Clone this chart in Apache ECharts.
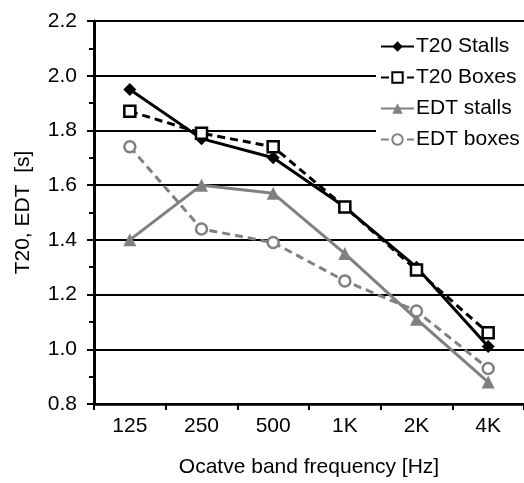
<!DOCTYPE html>
<html>
<head>
<meta charset="utf-8">
<script src="https://cdn.jsdelivr.net/npm/echarts@6/dist/echarts.min.js"></script>
<style>html,body{margin:0;padding:0;background:#fff}#c{width:524px;height:483px}</style>
</head>
<body>
<div id="c"></div>
<script>
var categories = ['125', '250', '500', '1K', '2K', '4K'];
var t20Stalls = [1.95, 1.77, 1.70, 1.52, 1.30, 1.01];
var t20Boxes = [1.87, 1.79, 1.74, 1.52, 1.29, 1.06];
var edtStalls = [1.40, 1.60, 1.57, 1.35, 1.11, 0.88];
var edtBoxes = [1.74, 1.44, 1.39, 1.25, 1.14, 0.93];
var seriesNames = ['T20 Stalls', 'T20 Boxes', 'EDT stalls', 'EDT boxes'];
var yTicks = { min: 0.8, max: 2.2, interval: 0.2 };

var FONT = 'Liberation Sans, Arial, sans-serif';
var BLACK = '#000000', GRAY = '#808080';

var chart = echarts.init(document.getElementById('c'), null, { renderer: 'canvas' });
function mk(name, data, color, dashed, symbol, hollow) {
  return {
    name: name, type: 'line', data: data,
    symbol: symbol, symbolSize: symbol === 'triangle' ? 13 : (symbol === 'diamond' ? 13 : 11),
    showSymbol: true,
    lineStyle: { color: color, width: 3, type: dashed ? [8, 5] : 'solid' },
    itemStyle: { color: hollow ? '#ffffff' : color, borderColor: color, borderWidth: hollow ? 2.5 : 0 },
    emphasis: { disabled: true },
    animation: false, z: 3
  };
}
chart.setOption({
  animation: false,
  backgroundColor: '#ffffff',
  grid: { left: 94, right: -6, top: 21, bottom: 75 },
  legend: {
    orient: 'vertical', left: 376, top: 32,
    backgroundColor: '#ffffff', padding: [4, 6, 4, 4],
    itemWidth: 33, itemHeight: 13, itemGap: 10,
    textStyle: { fontFamily: FONT, fontSize: 21, color: '#000', padding: [0, 0, 0, -3] },
    data: seriesNames
  },
  xAxis: {
    type: 'category', data: categories, boundaryGap: true,
    axisLine: { lineStyle: { color: '#000', width: 2.5 } },
    axisTick: { show: true, alignWithLabel: false, length: 6, lineStyle: { color: '#000', width: 2 } },
    axisLabel: { fontFamily: FONT, fontSize: 21, color: '#000', margin: 12 },
    splitLine: { show: false },
    name: 'Ocatve band frequency [Hz]', nameLocation: 'middle', nameGap: 53,
    nameTextStyle: { fontFamily: FONT, fontSize: 21, color: '#000' }
  },
  yAxis: {
    type: 'value', min: yTicks.min, max: yTicks.max, interval: yTicks.interval,
    axisLine: { show: true, lineStyle: { color: '#000', width: 3 } },
    axisTick: { show: true, length: 7, lineStyle: { color: '#000', width: 2 } },
    minorTick: { show: true, splitNumber: 2, length: 5, lineStyle: { color: '#000', width: 2 } },
    axisLabel: { fontFamily: FONT, fontSize: 21, color: '#000', margin: 17,
      formatter: function (v) { return v.toFixed(1); } },
    splitLine: { show: true, lineStyle: { color: '#000', width: 2 } },
    name: 'T20, EDT  [s]', nameLocation: 'middle', nameGap: 60, nameRotate: 90,
    nameTextStyle: { fontFamily: FONT, fontSize: 21, color: '#000' }
  },
  series: [
    mk(seriesNames[0], t20Stalls, BLACK, false, 'diamond', false),
    mk(seriesNames[1], t20Boxes, BLACK, true, 'rect', true),
    mk(seriesNames[2], edtStalls, GRAY, false, 'triangle', false),
    mk(seriesNames[3], edtBoxes, GRAY, true, 'circle', true)
  ]
});
</script>
</body>
</html>
